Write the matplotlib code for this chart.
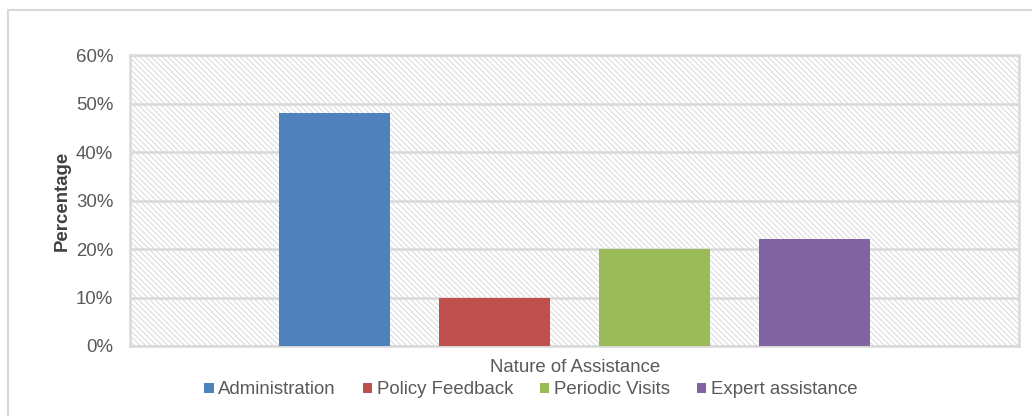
import matplotlib.pyplot as plt
from matplotlib.patches import Rectangle
from matplotlib.ticker import PercentFormatter

# Data
categories = ['Administration', 'Policy Feedback', 'Periodic Visits', 'Expert assistance']
values = [48, 10, 20, 22]
colors = ['#4f81bd', '#c0504d', '#9bbb59', '#8064a2']
positions = [0.230, 0.410, 0.590, 0.770]

plt.rcParams['font.family'] = ['Liberation Sans', 'DejaVu Sans']
plt.rcParams['hatch.color'] = '#dcdcdc'
plt.rcParams['hatch.linewidth'] = 0.8

fs = 13.4
fig = plt.figure(figsize=(10.32, 4.16), dpi=100)
ax = fig.add_axes([130 / 1032, 1 - 346 / 416, 889 / 1032, 291 / 416])

# outer chart border
fig.patches.append(Rectangle((8 / 1032, -0.1), 1.2, 1 - 10 / 416 + 0.1, transform=fig.transFigure,
                             fill=False, edgecolor='#d9d9d9', linewidth=1.5))

# hatched plot background
ax.add_patch(Rectangle((0, 0), 1, 1, transform=ax.transAxes, facecolor='white',
                       hatch='\\' * 6, edgecolor='#dcdcdc', linewidth=0, zorder=0))

for pos, val, col, cat in zip(positions, values, colors, categories):
    ax.bar(pos, val, width=0.125, color=col, label=cat, zorder=3)

ax.set_xlim(0, 1)
ax.set_ylim(0, 60)
ax.set_yticks(range(0, 61, 10))
ax.yaxis.set_major_formatter(PercentFormatter(decimals=0))
ax.set_xticks([])
ax.grid(axis='y', color='#d9d9d9', linewidth=1.8, zorder=1)
ax.set_axisbelow(True)
for s in ax.spines.values():
    s.set_color('#d9d9d9')
    s.set_linewidth(1.8)
ax.tick_params(axis='y', length=0, labelsize=fs, labelcolor='#595959', pad=12)

ax.set_ylabel('Percentage', fontsize=fs, fontweight='bold', color='#404040', labelpad=4)
fig.text(575 / 1032, 1 - 368 / 416, 'Nature of Assistance', ha='center', va='center',
         fontsize=fs, color='#595959')

fig.legend(loc='center', bbox_to_anchor=(531 / 1032, 1 - 390 / 416), ncol=4, frameon=False,
           fontsize=fs, labelcolor='#595959', handlelength=0.5, handleheight=0.5,
           handletextpad=0.25, columnspacing=1.45)

fig.savefig('out.png', dpi=100)
